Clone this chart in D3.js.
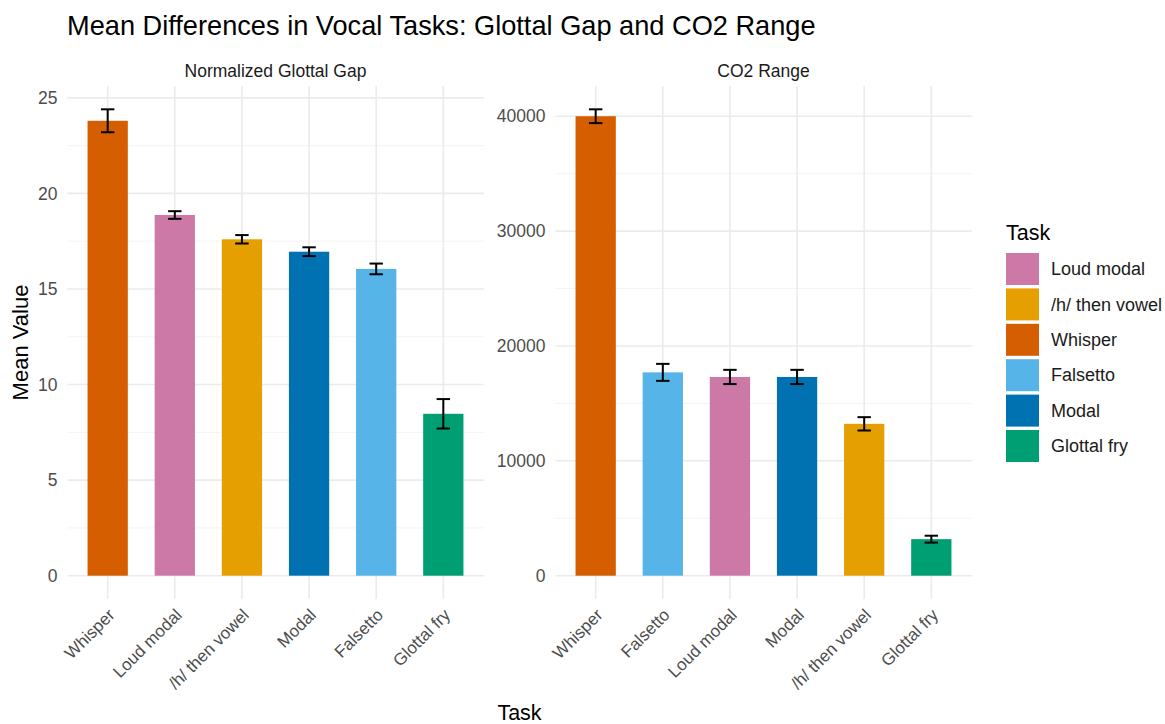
<!DOCTYPE html>
<html>
<head>
<meta charset="utf-8">
<script src="https://cdn.jsdelivr.net/npm/d3@7"></script>
<style>
  html, body { margin: 0; padding: 0; background: #fff; }
  svg { display: block; font-family: "Liberation Sans", Arial, Helvetica, sans-serif; }
</style>
</head>
<body>
<svg id="chart" width="1165" height="724"></svg>
<script>
// Normalized glottal gap panel
const gapTasks  = ["Whisper", "Loud modal", "/h/ then vowel", "Modal", "Falsetto", "Glottal fry"];
const gapMeans  = [23.8, 18.87, 17.6, 16.95, 16.05, 8.47];
const gapErrors = [0.6, 0.2, 0.22, 0.23, 0.28, 0.77];
const gapTicks  = [0, 5, 10, 15, 20, 25];

// CO2 range panel
const co2Tasks  = ["Whisper", "Falsetto", "Loud modal", "Modal", "/h/ then vowel", "Glottal fry"];
const co2Means  = [40000, 17700, 17300, 17300, 13220, 3180];
const co2Errors = [600, 740, 620, 620, 580, 300];
const co2Ticks  = [0, 10000, 20000, 30000, 40000];

// Legend order and fill colours
const legendTasks = ["Loud modal", "/h/ then vowel", "Whisper", "Falsetto", "Modal", "Glottal fry"];
const legendColors = ["#CC79A7", "#E69F00", "#D55E00", "#56B4E9", "#0072B2", "#009E73"];

const svg = d3.select("#chart");
const color = d3.scaleOrdinal().domain(legendTasks).range(legendColors);

const panelTop = 86, panelBottom = 599;
const gridMajor = "#ebebeb", gridMinor = "#f2f2f2";
const textGray = "#4d4d4d";
const font = "'Liberation Sans', Arial, sans-serif";

function drawPanel(opts) {
  const { tasks, means, errors, ticks, left, right, title } = opts;
  const rows = tasks.map((t, i) => ({ task: t, mean: means[i], err: errors[i] }));
  const top = d3.max(rows, d => d.mean + d.err);
  const y = d3.scaleLinear()
    .domain([-0.05 * top, 1.05 * top])
    .range([panelBottom, panelTop]);
  const x = d3.scaleBand()
    .domain(tasks)
    .range([left, right])
    .paddingInner(0.4)
    .paddingOuter(0.3);
  const step = x.step();
  const cx = d => x(d) + x.bandwidth() / 2;

  const g = svg.append("g");

  // minor horizontal grid (midpoints between major ticks)
  const half = (ticks[1] - ticks[0]) / 2;
  const minor = ticks.map(t => t + half).filter(v => y(v) >= panelTop);
  g.selectAll(".minor").data(minor).join("line")
    .attr("x1", left).attr("x2", right)
    .attr("y1", d => y(d)).attr("y2", d => y(d))
    .attr("stroke", gridMinor).attr("stroke-width", 0.9);

  // major horizontal grid
  g.selectAll(".major").data(ticks).join("line")
    .attr("x1", left).attr("x2", right)
    .attr("y1", d => y(d)).attr("y2", d => y(d))
    .attr("stroke", gridMajor).attr("stroke-width", 1.6);

  // vertical grid at category centres
  g.selectAll(".vgrid").data(tasks).join("line")
    .attr("x1", cx).attr("x2", cx)
    .attr("y1", panelTop).attr("y2", panelBottom)
    .attr("stroke", gridMajor).attr("stroke-width", 1.6);

  // bars
  g.selectAll(".bar").data(rows).join("rect")
    .attr("x", d => x(d.task))
    .attr("width", x.bandwidth())
    .attr("y", d => y(d.mean))
    .attr("height", d => y(0) - y(d.mean))
    .attr("fill", d => color(d.task));

  // error bars
  const cap = step * 0.2 / 2;
  const eb = g.selectAll(".err").data(rows).join("g")
    .attr("stroke", "#000").attr("stroke-width", 2).attr("fill", "none");
  eb.append("line")
    .attr("x1", d => cx(d.task)).attr("x2", d => cx(d.task))
    .attr("y1", d => y(d.mean - d.err)).attr("y2", d => y(d.mean + d.err));
  eb.append("line")
    .attr("x1", d => cx(d.task) - cap).attr("x2", d => cx(d.task) + cap)
    .attr("y1", d => y(d.mean + d.err)).attr("y2", d => y(d.mean + d.err));
  eb.append("line")
    .attr("x1", d => cx(d.task) - cap).attr("x2", d => cx(d.task) + cap)
    .attr("y1", d => y(d.mean - d.err)).attr("y2", d => y(d.mean - d.err));

  // y axis labels
  const yAxis = g.append("g")
    .attr("transform", `translate(${left},0)`)
    .call(d3.axisLeft(y).tickValues(ticks).tickFormat(d3.format("d")).tickSize(0).tickPadding(10));
  yAxis.select(".domain").remove();
  yAxis.selectAll("text")
    .attr("fill", textGray).style("font-size", "17.5px").style("font-family", font);

  // x axis labels, rotated 45 degrees
  const xAxis = g.append("g")
    .attr("transform", `translate(0,${panelBottom})`)
    .call(d3.axisBottom(x).tickSize(0).tickPadding(0));
  xAxis.select(".domain").remove();
  xAxis.selectAll("text")
    .attr("fill", textGray).style("font-size", "17px").style("font-family", font)
    .attr("text-anchor", "end")
    .attr("dy", null).attr("y", 0)
    .attr("transform", "translate(8,17) rotate(-45)");

  // facet strip title
  svg.append("text")
    .attr("x", (left + right) / 2).attr("y", 77)
    .attr("text-anchor", "middle")
    .attr("fill", "#1a1a1a").style("font-size", "17.5px")
    .text(title);
}

drawPanel({ tasks: gapTasks, means: gapMeans, errors: gapErrors, ticks: gapTicks,
            left: 67.4, right: 483.6, title: "Normalized Glottal Gap" });
drawPanel({ tasks: co2Tasks, means: co2Means, errors: co2Errors, ticks: co2Ticks,
            left: 555.4, right: 971.6, title: "CO2 Range" });

// plot title
svg.append("text")
  .attr("x", 67).attr("y", 35)
  .attr("fill", "#000").style("font-size", "27.2px")
  .text("Mean Differences in Vocal Tasks: Glottal Gap and CO2 Range");

// axis titles
svg.append("text")
  .attr("transform", `translate(28,${(panelTop + panelBottom) / 2}) rotate(-90)`)
  .attr("text-anchor", "middle")
  .attr("fill", "#000").style("font-size", "22px")
  .text("Mean Value");

svg.append("text")
  .attr("x", (67.4 + 971.6) / 2).attr("y", 720)
  .attr("text-anchor", "middle")
  .attr("fill", "#000").style("font-size", "21.5px")
  .text("Task");

// legend
const legend = svg.append("g").attr("transform", "translate(1006,0)");
legend.append("text")
  .attr("x", 0).attr("y", 240)
  .attr("fill", "#000").style("font-size", "21.5px")
  .text("Task");
const items = legend.selectAll(".item").data(legendTasks).join("g")
  .attr("transform", (d, i) => `translate(0,${253 + i * 35.4})`);
items.append("rect")
  .attr("width", 33).attr("height", 32)
  .attr("fill", d => color(d));
items.append("text")
  .attr("x", 45).attr("y", 16).attr("dy", "0.35em")
  .attr("fill", "#1a1a1a").style("font-size", "18px")
  .text(d => d);
</script>
</body>
</html>
